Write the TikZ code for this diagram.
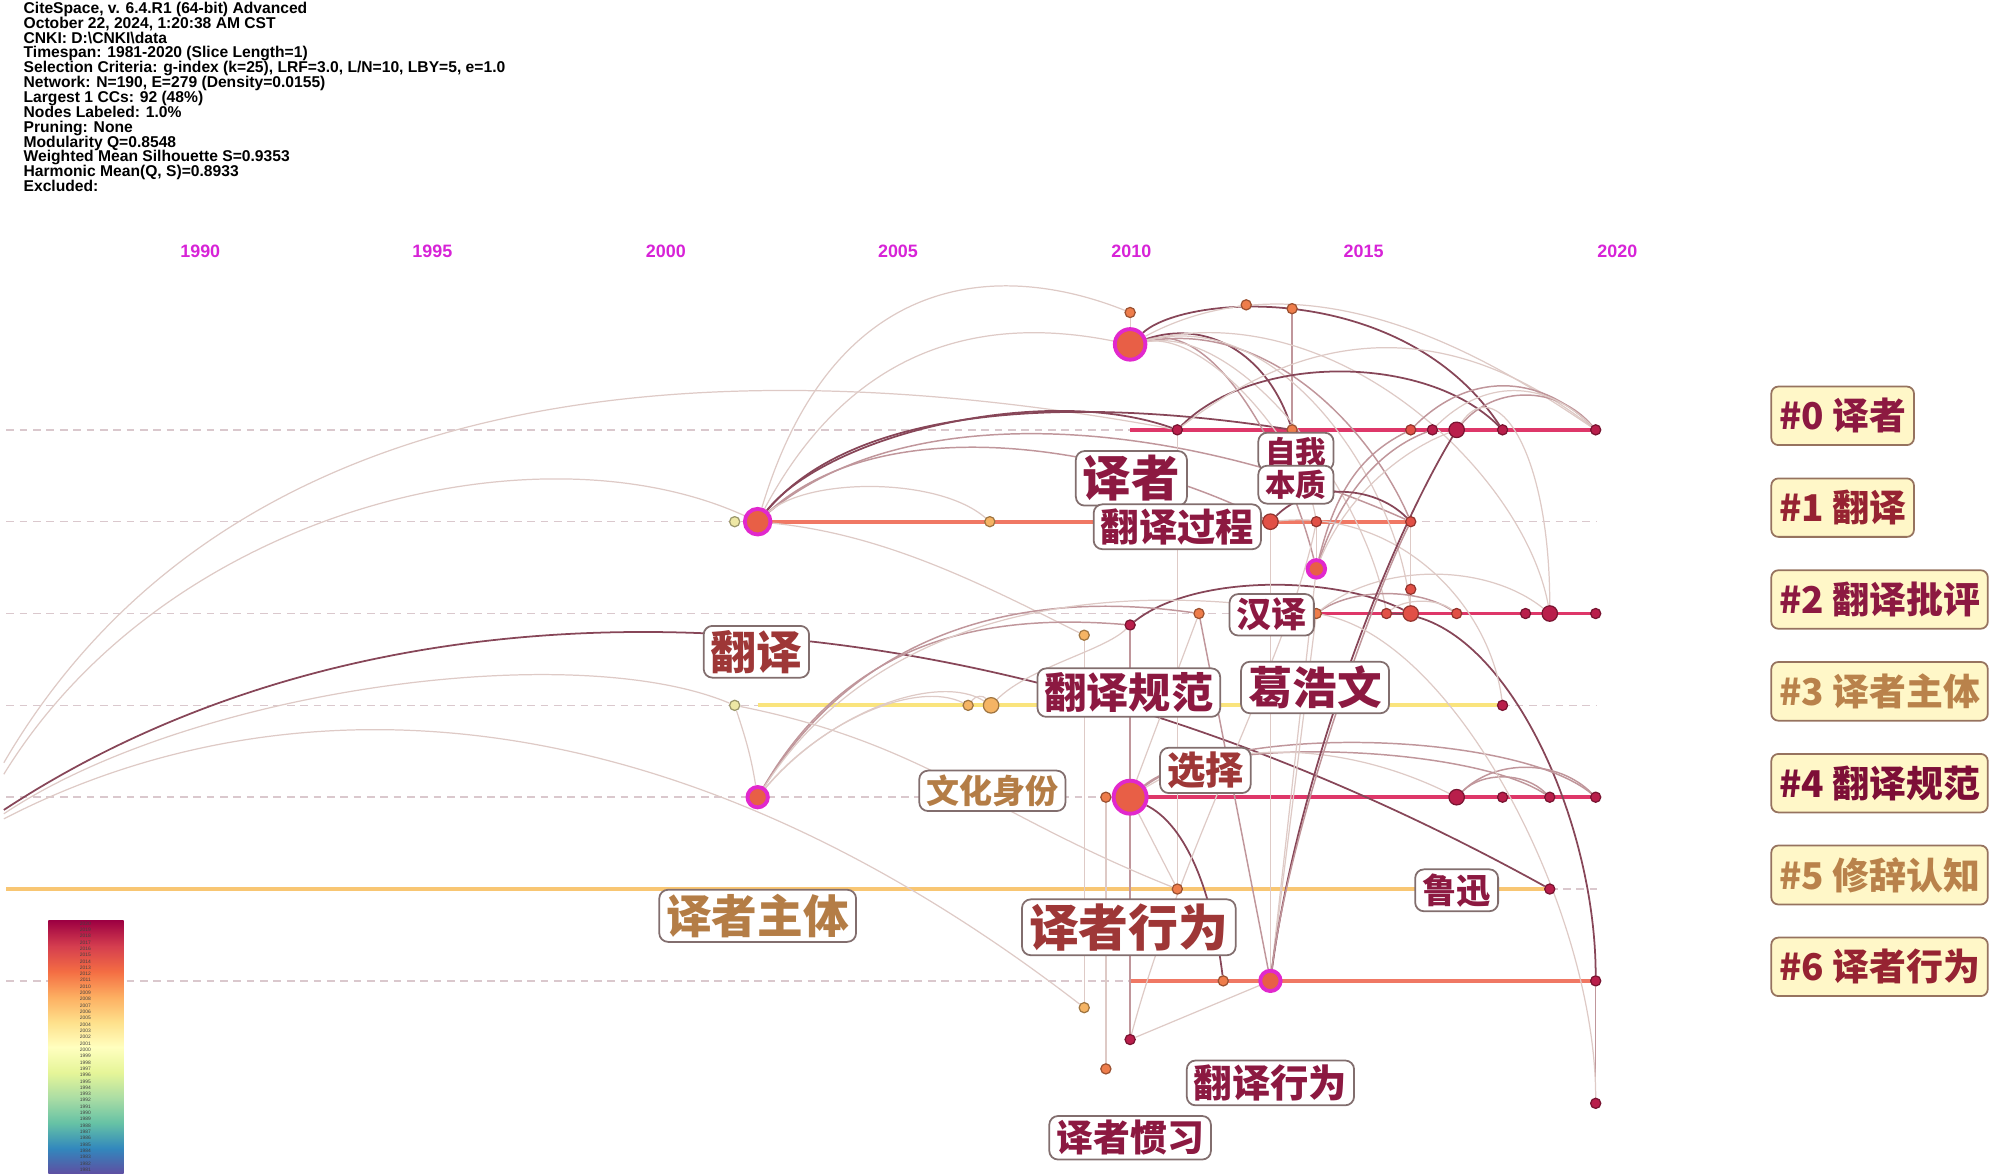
\documentclass[tikz,border=0pt]{standalone}
\usepackage{fontspec}
\setmainfont{Liberation Sans}
\newfontfamily\cjk{Noto Sans CJK SC}
\usetikzlibrary{backgrounds}
\pgfdeclarelayer{bg}
\pgfsetlayers{bg,main}

\definecolor{threadc}{RGB}{218,200,205}
\definecolor{edgeL}{RGB}{222,202,198}
\definecolor{edgeM}{RGB}{192,150,155}
\definecolor{edgeD}{RGB}{135,70,88}
\definecolor{crim}{RGB}{185,30,75}
\definecolor{redo}{RGB}{225,80,70}
\definecolor{orng}{RGB}{238,125,75}
\definecolor{yorg}{RGB}{245,180,100}
\definecolor{pale}{RGB}{238,232,165}
\definecolor{hubc}{RGB}{232,95,70}
\definecolor{ringc}{RGB}{225,40,205}
\definecolor{rowA}{RGB}{222,55,105}
\definecolor{rowB}{RGB}{240,120,100}
\definecolor{rowC}{RGB}{250,228,125}
\definecolor{rowD}{RGB}{248,198,115}
\definecolor{yrc}{RGB}{215,35,215}
\definecolor{kline}{RGB}{130,110,110}
\definecolor{kcrim}{RGB}{140,25,65}
\definecolor{kbrown}{RGB}{158,55,55}
\definecolor{ktan}{RGB}{180,125,70}
\definecolor{clfill}{RGB}{255,247,200}
\definecolor{clline}{RGB}{150,115,95}
\definecolor{tc0}{RGB}{140,25,65}
\definecolor{tc1}{RGB}{150,35,50}
\definecolor{tc3}{RGB}{185,130,75}
\definecolor{tc4}{RGB}{125,15,55}
\definecolor{sp0}{HTML}{9E0142}
\definecolor{sp1}{HTML}{D53E4F}
\definecolor{sp2}{HTML}{F46D43}
\definecolor{sp3}{HTML}{FDAE61}
\definecolor{sp4}{HTML}{FEE08B}
\definecolor{sp5}{HTML}{FFFFBF}
\definecolor{sp6}{HTML}{E6F598}
\definecolor{sp7}{HTML}{ABDDA4}
\definecolor{sp8}{HTML}{66C2A5}
\definecolor{sp9}{HTML}{3288BD}
\definecolor{sp10}{HTML}{5E4FA2}
\pgfdeclareverticalshading{spectral}{100bp}{color(0bp)=(sp10); color(25bp)=(sp10); color(30bp)=(sp9); color(35bp)=(sp8); color(40bp)=(sp7); color(45bp)=(sp6); color(50bp)=(sp5); color(55bp)=(sp4); color(60bp)=(sp3); color(65bp)=(sp2); color(70bp)=(sp1); color(75bp)=(sp0); color(100bp)=(sp0)}

\newcommand\fsz[1]{\fontsize{#1}{#1}\selectfont}

\tikzset{
  thread/.style={draw=threadc, line width=0.4pt, dash pattern=on 2.2pt off 1.6pt},
  rowline/.style={draw=#1, line width=1.1pt},
  eL/.style={draw=edgeL, line width=0.35pt},
  eM/.style={draw=edgeM, line width=0.42pt},
  eD/.style={draw=edgeD, line width=0.5pt},
  nd/.style={circle, inner sep=0pt, minimum size=2.9pt, line width=0.35pt, draw=#1!65!black, fill=#1},
  ndM/.style={nd=#1, minimum size=4.4pt},
  hub/.style={circle, inner sep=0pt, minimum size=#1, fill=hubc, draw=ringc, line width=1.1pt},
  kw/.style 2 args={draw=kline, fill=white, rounded corners=2.5pt, line width=0.5pt,
    inner xsep=2pt, inner ysep=1.2pt, text=#1, font=\cjk\bfseries\fsz{#2}},
  clab/.style={draw=clline, fill=clfill, rounded corners=2pt, line width=0.5pt, anchor=west,
    minimum height=15.2pt, inner xsep=2.2pt, text=#1, font=\cjk\bfseries\fsz{10.5}},
  yrlab/.style={text=yrc, font=\bfseries\fsz{5.1}, inner sep=0pt},
}

\begin{document}
\begin{tikzpicture}[x=0.012755cm, y=-0.012755cm, line cap=round, line join=round]
\useasboundingbox (0,0) rectangle (1568,920);

% header
\node[anchor=north west, inner sep=0pt, align=left, font=\bfseries\fontsize{4.45}{4.23}\selectfont] (info) at (18,1)
 {CiteSpace, v. 6.4.R1 (64-bit) Advanced\\
  October 22, 2024, 1:20:38 AM CST\\
  CNKI: D:\textbackslash CNKI\textbackslash data\\
  Timespan: 1981-2020 (Slice Length=1)\\
  Selection Criteria: g-index (k=25), LRF=3.0, L/N=10, LBY=5, e=1.0\\
  Network: N=190, E=279 (Density=0.0155)\\
  Largest 1 CCs: 92 (48\%)\\
  Nodes Labeled: 1.0\%\\
  Pruning: None\\
  Modularity Q=0.8548\\
  Weighted Mean Silhouette S=0.9353\\
  Harmonic Mean(Q, S)=0.8933\\
  Excluded:};

% years
\foreach \yr/\xx in {1990/157,1995/339,2000/522,2005/704,2010/887,2015/1069,2020/1268}
  \node[yrlab] (yr\yr) at (\xx,197) {\yr};

% off-canvas ends
\coordinate (L1) at (3,598);
\coordinate (L2) at (3,607);
\coordinate (L3) at (3,635);
\coordinate (L4) at (3,638);
\coordinate (L5) at (3,642);

% nodes
\node[nd=orng] (t1) at (886,245) {};
\node[hub=8.7pt] (h10) at (886,270) {};
\node[nd=orng] (t2) at (977,239) {};
\node[nd=orng] (t3) at (1013,242) {};

\node[nd=crim] (a1) at (923,337) {};
\node[nd=orng] (a2) at (1013,337) {};
\node[nd=redo] (a3) at (1106,337) {};
\node[nd=crim] (a4) at (1123,337) {};
\node[ndM=crim] (a5) at (1142,337) {};
\node[nd=crim] (a6) at (1178,337) {};
\node[nd=crim] (a7) at (1251,337) {};

\node[nd=pale] (b0) at (576,409) {};
\node[hub=7.3pt] (h01) at (594,409) {};
\node[nd=yorg] (b1) at (776,409) {};
\node[ndM=redo] (b2) at (996,409) {};
\node[nd=redo] (b3) at (1032,409) {};
\node[nd=redo] (b4) at (1106,409) {};
\node[hub=5pt] (h14) at (1032,446) {};
\node[nd=redo] (b5) at (1106,462) {};

\node[nd=crim] (c0) at (886,490) {};
\node[nd=yorg] (c1) at (850,498) {};
\node[nd=orng] (c2) at (940,481) {};
\node[nd=orng] (c3) at (1032,481) {};
\node[nd=redo] (c4) at (1087,481) {};
\node[ndM=redo] (c5) at (1106,481) {};
\node[nd=redo] (c6) at (1142,481) {};
\node[nd=crim] (c7) at (1196,481) {};
\node[ndM=crim] (c8) at (1215,481) {};
\node[nd=crim] (c9) at (1251,481) {};

\node[nd=pale] (d0) at (576,553) {};
\node[nd=yorg] (d1) at (759,553) {};
\node[ndM=yorg] (d2) at (777,553) {};
\node[nd=crim] (d3) at (1178,553) {};

\node[hub=5.8pt] (h99) at (594,625) {};
\node[nd=orng] (e1) at (867,625) {};
\node[hub=9.4pt] (h10b) at (886,625) {};
\node[ndM=crim] (e2) at (1142,625) {};
\node[nd=crim] (e3) at (1178,625) {};
\node[nd=crim] (e4) at (1215,625) {};
\node[nd=crim] (e5) at (1251,625) {};

\node[nd=orng] (f1) at (923,697) {};
\node[nd=crim] (f2) at (1215,697) {};

\node[nd=orng] (g1) at (959,769) {};
\node[hub=5.8pt] (h14b) at (996,769) {};
\node[nd=crim] (g2) at (1251,769) {};

\node[nd=yorg] (k1) at (850,790) {};
\node[nd=crim] (k2) at (886,815) {};
\node[nd=orng] (k3) at (867,838) {};
\node[nd=crim] (k4) at (1251,865) {};

\begin{pgfonlayer}{bg}
% threads
\foreach \ry in {337,409,481,553,625,769}
  \draw[thread] (5,\ry) -- (1252,\ry);
\draw[thread] (1215,697) -- (1252,697);
\draw[rowline=rowA] (886,337) -- (1252,337);
\draw[rowline=rowB] (594,409) -- (1106,409);
\draw[rowline=rowA] (1000,481) -- (1252,481);
\draw[rowline=rowC] (594,553) -- (1178,553);
\draw[rowline=rowA] (886,625) -- (1252,625);
\draw[rowline=rowD] (5,697) -- (1215,697);
\draw[rowline=rowB] (886,769) -- (1252,769);

% links
\draw[eL] (L1) .. controls +(197,-338) and +(-283,-52) .. (a1);
\draw[eL] (L2) .. controls +(127,-207) and +(-174,-79) .. (h01);
\draw[eD] (L3) .. controls +(297,-195) and +(-465,-257) .. (f2);
\draw[eL] (L4) .. controls +(147,-98) and +(-126,-53) .. (d0);
\draw[eL] (L5) .. controls +(197,-102) and +(-350,-270) .. (k1);

\draw[eD] (h01) .. controls +(56,-69) and +(-103,-37) .. (a1);
\draw[eD] (h01) .. controls +(80,-95) and +(-160,-25) .. (a2);
\draw[eM] (h01) .. controls +(100,-90) and +(-120,-60) .. (b2);
\draw[eM] (h01) .. controls +(120,-100) and +(-180,-80) .. (b4);
\draw[eL] (h01) .. controls +(40,-35) and +(-40,-35) .. (b1);
\draw[eL] (h01) .. controls +(100,10) and +(-80,-40) .. (c1);
\draw[eL] (h01) .. controls +(60,-200) and +(-100,-40) .. (t1);
\draw[eL] (h01) .. controls +(80,-150) and +(-100,-20) .. (h10);

\draw[eD] (h10) .. controls +(44,-40) and +(-78,-117) .. (a6);
\draw[eD] (h10) .. controls +(60,-20) and +(-20,-60) .. (a2);
\draw[eM] (t3) -- (a2);
\draw[eL] (t1) -- (h10);
\draw[eM] (h10) .. controls +(70,-20) and +(-20,-80) .. (h14);
\draw[eM] (h10) .. controls +(110,-20) and +(-30,-70) .. (b4);
\draw[eL] (h10) .. controls +(120,-30) and +(-10,-100) .. (c5);
\draw[eL] (h10) .. controls +(160,-40) and +(-20,-110) .. (c8);
\draw[eL] (h10) .. controls +(150,-80) and +(-60,-40) .. (a7);
\draw[eL] (h10) .. controls +(60,-10) and +(-10,-60) .. (b3);
\draw[eL] (h10) .. controls +(90,-15) and +(-15,-90) .. (c4);

\draw[eD] (a1) .. controls +(60,-60) and +(-60,-60) .. (a6);
\draw[eL] (a1) .. controls +(110,-85) and +(-110,-85) .. (a7);
\draw[eM] (a5) .. controls +(30,-35) and +(-30,-35) .. (a7);
\draw[eM] (a3) .. controls +(45,-45) and +(-45,-45) .. (a7);
\draw[eL] (a4) .. controls +(40,-40) and +(-40,-40) .. (a7);
\draw[eL] (a5) .. controls +(30,-45) and +(0,-130) .. (c8);
\draw[eL] (a1) -- (f1);

\draw[eM] (h14) .. controls +(15,-60) and +(-40,20) .. (a3);
\draw[eM] (h14) .. controls +(20,-60) and +(-40,15) .. (a4);
\draw[eL] (h14) .. controls +(25,-60) and +(-40,15) .. (a5);
\draw[eL] (b3) -- (h14);
\draw[eD] (b2) .. controls +(30,-30) and +(-30,-30) .. (b4);
\draw[eL] (b4) -- (b5);
\draw[eL] (b5) -- (c5);

\draw[eD] (c0) .. controls +(50,-40) and +(-60,-30) .. (c5);
\draw[eM] (c3) .. controls +(30,-20) and +(-30,-20) .. (c6);
\draw[eL] (c3) .. controls +(50,-40) and +(-50,-40) .. (c8);
\draw[eL] (c4) .. controls +(15,-12) and +(-15,-12) .. (c6);
\draw[eD] (c4) .. controls +(90,0) and +(0,-130) .. (g2);
\draw[eL] (c1) -- (k1);
\draw[eM] (c0) -- (k2);

\draw[eL] (h99) .. controls +(50,-60) and +(-40,-20) .. (d1);
\draw[eL] (h99) .. controls +(60,-70) and +(-40,-25) .. (d2);
\draw[eM] (h99) .. controls +(70,-120) and +(-120,-10) .. (c0);
\draw[eM] (h99) .. controls +(80,-130) and +(-140,-20) .. (c2);
\draw[eL] (h99) .. controls +(90,-140) and +(-180,-30) .. (c3);
\draw[eL] (d0) .. controls +(10,30) and +(-5,-30) .. (h99);
\draw[eL] (d1) .. controls +(6,-8) and +(-6,-8) .. (d2);
\draw[eL] (d2) .. controls +(30,-30) and +(-20,20) .. (c0);
\draw[eL] (b2) .. controls +(100,-10) and +(-10,-80) .. (d3);
\draw[eL] (d0) .. controls +(150,30) and +(-150,-60) .. (f1);

\draw[eM] (h10b) .. controls +(60,-50) and +(-60,-40) .. (e4);
\draw[eM] (h10b) .. controls +(80,-60) and +(-60,-50) .. (e5);
\draw[eL] (h10b) .. controls +(80,-50) and +(-80,-40) .. (e2);
\draw[eM] (e2) .. controls +(20,-20) and +(-20,-20) .. (e4);
\draw[eM] (e2) .. controls +(30,-30) and +(-30,-30) .. (e5);
\draw[eD] (h10b) .. controls +(40,20) and +(-10,-80) .. (g1);
\draw[eL] (e1) -- (k3);
\draw[eL] (h10b) -- (f1);
\draw[eL] (c2) -- (h10b);

\draw[eM] (h14b) -- (c2);
\draw[eL] (h14b) -- (c3);
\draw[eL] (h14b) -- (b2);
\draw[eL] (h14b) -- (h14);
\draw[eD] (h14b) .. controls +(20,-150) and +(-60,100) .. (a5);
\draw[eM] (h14b) .. controls +(15,-120) and +(-30,60) .. (b4);
\draw[eL] (h14b) -- (k2);
\draw[eM] (g2) -- (k4);
\draw[eL] (c3) .. controls +(110,20) and +(0,-150) .. (k4);
\draw[eL] (k2) .. controls +(40,-150) and +(-20,100) .. (b3);
\end{pgfonlayer}

% keyword labels
\node[kw={kcrim}{13.8}] (kYizhe) at (887,375) {译者};
\node[kw={kcrim}{8.7}] (kZiwo) at (1016,354) {自我};
\node[kw={kcrim}{8.7}] (kBenzhi) at (1016,380) {本质};
\node[kw={kcrim}{10.9}] (kGuocheng) at (923,413) {翻译过程};
\node[kw={kcrim}{10}] (kHanyi) at (997,482) {汉译};
\node[kw={kbrown}{13}] (kFanyi) at (593,511) {翻译};
\node[kw={kcrim}{12}] (kGuifan) at (885,543) {翻译规范};
\node[kw={kcrim}{12.7}] (kGe) at (1031,539) {葛浩文};
\node[kw={kbrown}{10.9}] (kXuanze) at (945,604) {选择};
\node[kw={ktan}{9.4}] (kWenhua) at (778,620) {文化身份};
\node[kw={kcrim}{9.8}] (kLuxun) at (1142,698) {鲁迅};
\node[kw={ktan}{13}] (kZhuti) at (594,718) {译者主体};
\node[kw={kbrown}{14.2}] (kXingwei) at (885,727) {译者行为};
\node[kw={kcrim}{10.9}] (kFyxw) at (996,849) {翻译行为};
\node[kw={kcrim}{10.5}] (kGuanxi) at (886,892) {译者惯习};

% cluster labels
\foreach \k/\txt/\cc/\yy in {0/译者/tc0/326, 1/翻译/tc1/398, 2/翻译批评/tc0/470, 3/译者主体/tc3/542,
    4/翻译规范/tc4/614, 5/修辞认知/tc3/686, 6/译者行为/tc1/758}
  \node[clab=\cc] (cl\k) at (1388,\yy) {\#\k\ \txt};

% colour key
\shade[shading=spectral] (38,722) rectangle (97,920);
\foreach \i in {0,...,39} {
  \pgfmathtruncatemacro\yv{2020-\i}
  \node[font=\fsz{1.4}, text=black!75, inner sep=0pt] (cb\i) at (67,{724+\i*4.95}) {\yv};
}
\end{tikzpicture}
\end{document}
